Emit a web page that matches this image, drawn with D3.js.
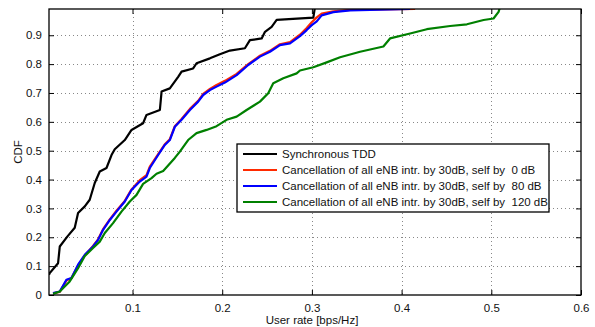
<!DOCTYPE html>
<html>
<head>
<meta charset="utf-8">
<script src="https://cdn.jsdelivr.net/npm/d3@7"></script>
<style>
  body { margin: 0; background: #fff; }
  svg text { font-family: "Liberation Sans", Arial, sans-serif; font-size: 11.5px; fill: #111; }
</style>
</head>
<body>
<svg id="svg1" width="595" height="327"></svg>
<script>
// tick labels
var xTicks = [0.1, 0.2, 0.3, 0.4, 0.5, 0.6];
var yTicks = [0, 0.1, 0.2, 0.3, 0.4, 0.5, 0.6, 0.7, 0.8, 0.9];

var seriesNames = [
  'Synchronous TDD',
  'Cancellation of all eNB intr. by 30dB, self by  0 dB',
  'Cancellation of all eNB intr. by 30dB, self by  80 dB',
  'Cancellation of all eNB intr. by 30dB, self by  120 dB'
];
var seriesColors = ['#000000', '#ff2a00', '#0000ff', '#008000'];

// CDF curves: [user rate, cdf]
var syncTDD = [
  [0.0069,0.07],[0.0077,0.076],[0.017,0.11],[0.0189,0.168],[0.0275,0.203],[0.0356,0.233],
  [0.0393,0.284],[0.0468,0.307],[0.0523,0.33],[0.0579,0.388],[0.0635,0.428],[0.071,0.44],
  [0.0766,0.485],[0.0802,0.505],[0.0914,0.537],[0.0989,0.572],[0.1118,0.595],[0.1156,0.624],
  [0.1305,0.641],[0.1324,0.705],[0.1416,0.716],[0.1509,0.756],[0.1547,0.774],[0.1676,0.785],
  [0.1714,0.803],[0.1863,0.82],[0.1974,0.834],[0.2086,0.847],[0.2253,0.855],[0.2309,0.883],
  [0.244,0.889],[0.2477,0.912],[0.2551,0.929],[0.2607,0.953],[0.3016,0.961],[0.3035,1.0]
];
var cancel0 = [
  [0.0114,0.006],[0.0189,0.011],[0.0263,0.05],[0.0319,0.058],[0.0393,0.102],[0.0468,0.137],
  [0.056,0.17],[0.0616,0.193],[0.0672,0.228],[0.0747,0.262],[0.0821,0.292],[0.0914,0.326],
  [0.0989,0.366],[0.1081,0.398],[0.1156,0.415],[0.1193,0.445],[0.1286,0.488],[0.136,0.522],
  [0.1416,0.54],[0.1472,0.585],[0.1547,0.61],[0.164,0.645],[0.1732,0.673],[0.1788,0.697],
  [0.1863,0.714],[0.1937,0.728],[0.203,0.742],[0.2161,0.766],[0.229,0.8],[0.2421,0.829],
  [0.2532,0.846],[0.2644,0.869],[0.2756,0.876],[0.2867,0.902],[0.2942,0.925],[0.2998,0.945],
  [0.3054,0.962],[0.3109,0.975],[0.3239,0.983],[0.3425,0.988],[0.4151,0.991]
];
var cancel80 = [
  [0.0114,0.007],[0.0189,0.012],[0.0263,0.053],[0.0319,0.059],[0.0393,0.105],[0.0468,0.139],
  [0.056,0.168],[0.0616,0.191],[0.0672,0.226],[0.0747,0.26],[0.0821,0.289],[0.0914,0.324],
  [0.0989,0.364],[0.1081,0.393],[0.1156,0.41],[0.1193,0.44],[0.1286,0.485],[0.136,0.52],
  [0.1416,0.537],[0.1472,0.583],[0.1547,0.607],[0.164,0.641],[0.1732,0.67],[0.1788,0.693],
  [0.1863,0.71],[0.1937,0.722],[0.203,0.736],[0.2161,0.762],[0.229,0.797],[0.2421,0.826],
  [0.2532,0.843],[0.2644,0.866],[0.2756,0.872],[0.2867,0.897],[0.2942,0.918],[0.2998,0.935],
  [0.3054,0.948],[0.3109,0.969],[0.3239,0.98],[0.3425,0.986],[0.4095,0.991]
];
var cancel120 = [
  [0.0114,0.004],[0.0189,0.012],[0.03,0.047],[0.0393,0.093],[0.0468,0.135],[0.056,0.163],
  [0.0635,0.185],[0.0691,0.215],[0.0783,0.249],[0.0877,0.289],[0.097,0.324],[0.1045,0.347],
  [0.1118,0.385],[0.1212,0.405],[0.1268,0.42],[0.1342,0.43],[0.1472,0.475],[0.1528,0.497],
  [0.162,0.537],[0.1714,0.561],[0.1826,0.572],[0.1937,0.585],[0.2049,0.607],[0.2161,0.618],
  [0.2272,0.641],[0.2421,0.67],[0.2513,0.699],[0.2569,0.734],[0.2681,0.751],[0.283,0.768],
  [0.2867,0.778],[0.3016,0.789],[0.3165,0.806],[0.3314,0.824],[0.3537,0.843],[0.3797,0.861],
  [0.3871,0.889],[0.4095,0.906],[0.4281,0.921],[0.4541,0.932],[0.4728,0.938],[0.4914,0.953],
  [0.5025,0.958],[0.5081,0.981],[0.51,1.0]
];
var allSeries = [syncTDD, cancel0, cancel80, cancel120];

var marginLeft = 49, marginTop = 9;
var plotW = 581 - 49, plotH = 295 - 9;

var svg = d3.select('svg');
var g = svg.append('g')
    .attr('transform', 'translate(' + marginLeft + ',' + marginTop + ')');

var x = d3.scaleLinear().domain([0.0069, 0.6]).range([0, plotW]);
var y = d3.scaleLinear().domain([0, 0.991]).range([plotH, 0]);

//dotted grid
g.selectAll('.vgrid')
    .data(xTicks.filter(function(d){ return d < 0.6; }))
    .enter().append('line')
    .attr('x1', function(d){ return Math.round(x(d)) + 0.5; })
    .attr('x2', function(d){ return Math.round(x(d)) + 0.5; })
    .attr('y1', 0).attr('y2', plotH)
    .attr('stroke', '#888').attr('stroke-width', 1)
    .attr('stroke-dasharray', '1,3');

g.selectAll('.hgrid')
    .data(yTicks.filter(function(d){ return d > 0; }))
    .enter().append('line')
    .attr('y1', function(d){ return Math.round(y(d)) + 0.5; })
    .attr('y2', function(d){ return Math.round(y(d)) + 0.5; })
    .attr('x1', 0).attr('x2', plotW)
    .attr('stroke', '#888').attr('stroke-width', 1)
    .attr('stroke-dasharray', '1,3');

// clip curves to plot box
svg.append('defs').append('clipPath').attr('id', 'clip')
    .append('rect').attr('width', plotW).attr('height', plotH);

var line = d3.line()
    .x(function(d){ return x(d[0]); })
    .y(function(d){ return y(d[1]); });

g.append('g').attr('clip-path', 'url(#clip)')
    .selectAll('path')
    .data(allSeries)
    .enter().append('path')
    .attr('d', line)
    .attr('fill', 'none')
    .attr('stroke', function(d, i){ return seriesColors[i]; })
    .attr('stroke-width', 2.2)
    .attr('stroke-linejoin', 'round');

// axes: ticks inward on all four sides
var fmt = function(d){ return d === 0 ? '0' : d3.format('.1f')(d); };

var xAxis = g.append('g').attr('transform', 'translate(0,' + plotH + ')')
    .call(d3.axisBottom(x).tickValues(xTicks).tickFormat(fmt).tickSizeInner(-5).tickSizeOuter(0).tickPadding(9));
var xTop = g.append('g')
    .call(d3.axisTop(x).tickValues(xTicks).tickFormat('').tickSizeInner(-5).tickSizeOuter(0));
var yAxis = g.append('g')
    .call(d3.axisLeft(y).tickValues(yTicks).tickFormat(fmt).tickSizeInner(-5).tickSizeOuter(0).tickPadding(7));
var yRight = g.append('g').attr('transform', 'translate(' + plotW + ',0)')
    .call(d3.axisRight(y).tickValues(yTicks).tickFormat('').tickSizeInner(-5).tickSizeOuter(0));

[xAxis, xTop, yAxis, yRight].forEach(function(a){
    a.selectAll('text').attr('font-size', 11.5).attr('font-family', null);
    a.select('.domain').remove();
    a.selectAll('line').attr('stroke', '#000');
});

g.append('rect')
    .attr('width', plotW).attr('height', plotH)
    .attr('fill', 'none').attr('stroke', '#000').attr('stroke-width', 1.3);

// axis labels
svg.append('text')
    .attr('x', 312).attr('y', 324)
    .attr('text-anchor', 'middle')
    .text('User rate [bps/Hz]');

svg.append('text')
    .attr('transform', 'translate(22,152) rotate(-90)')
    .attr('text-anchor', 'middle')
    .text('CDF');

// legend
var legend = svg.append('g').attr('transform', 'translate(237,144)');
legend.append('rect')
    .attr('width', 312).attr('height', 68)
    .attr('fill', '#fff').attr('stroke', '#000').attr('stroke-width', 1.3);

var items = legend.selectAll('.item')
    .data(seriesNames)
    .enter().append('g')
    .attr('transform', function(d, i){ return 'translate(0,' + (10 + i * 16) + ')'; });

items.append('line')
    .attr('x1', 6).attr('x2', 40)
    .attr('stroke', function(d, i){ return seriesColors[i]; })
    .attr('stroke-width', 2.2);

items.append('text')
    .attr('x', 45).attr('y', 4)
    .style('white-space', 'pre')
    .text(function(d){ return d; });
</script>
</body>
</html>
